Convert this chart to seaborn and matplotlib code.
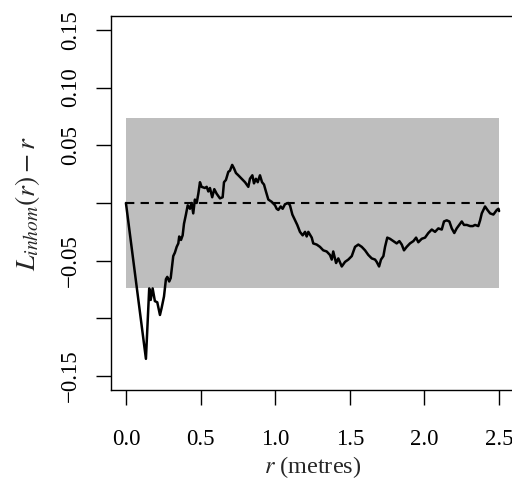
import numpy as np
import pandas as pd
import matplotlib
matplotlib.use("Agg")
import matplotlib.pyplot as plt
import seaborn as sns

# Estimated centred inhomogeneous L-function, L_inhom(r) - r
r_vals = [0.000, 0.134, 0.156, 0.166, 0.179, 0.194, 0.210, 0.228, 0.239, 0.255,
          0.268, 0.277, 0.290, 0.300, 0.317, 0.328, 0.340, 0.351, 0.357, 0.369,
          0.380, 0.389, 0.402, 0.414, 0.429, 0.440, 0.451, 0.462, 0.474, 0.485,
          0.496, 0.507, 0.529, 0.541, 0.552, 0.563, 0.578, 0.592, 0.608, 0.630,
          0.648, 0.657, 0.670, 0.686, 0.697, 0.712, 0.724, 0.737, 0.753, 0.775,
          0.798, 0.820, 0.831, 0.847, 0.858, 0.871, 0.883, 0.898, 0.912, 0.925,
          0.938, 0.954, 0.977, 0.999, 1.010, 1.021, 1.037, 1.050, 1.066, 1.088,
          1.099, 1.115, 1.133, 1.148, 1.166, 1.184, 1.200, 1.211, 1.222, 1.245,
          1.255, 1.278, 1.300, 1.322, 1.345, 1.367, 1.379, 1.389, 1.408, 1.423,
          1.446, 1.468, 1.490, 1.513, 1.535, 1.557, 1.580, 1.602, 1.624, 1.647,
          1.669, 1.680, 1.696, 1.709, 1.725, 1.736, 1.751, 1.769, 1.792, 1.814,
          1.832, 1.848, 1.863, 1.881, 1.903, 1.926, 1.944, 1.959, 1.982, 2.004,
          2.026, 2.049, 2.071, 2.093, 2.116, 2.131, 2.149, 2.167, 2.183, 2.200,
          2.216, 2.239, 2.250, 2.265, 2.284, 2.306, 2.324, 2.339, 2.361, 2.373,
          2.384, 2.406, 2.422, 2.440, 2.462, 2.485, 2.496, 2.500]
l_minus_r = [0.000, -0.135, -0.074, -0.084, -0.074, -0.085, -0.086, -0.097, -0.091, -0.081,
             -0.066, -0.064, -0.068, -0.065, -0.046, -0.043, -0.038, -0.035, -0.029, -0.032,
             -0.028, -0.018, -0.010, -0.002, -0.005, -0.000, -0.009, 0.003, 0.000, 0.008,
             0.018, 0.014, 0.013, 0.014, 0.010, 0.013, 0.005, 0.012, 0.008, 0.004,
             0.005, 0.018, 0.020, 0.027, 0.028, 0.033, 0.030, 0.026, 0.024, 0.021,
             0.018, 0.014, 0.021, 0.024, 0.017, 0.021, 0.018, 0.024, 0.018, 0.016,
             0.010, 0.003, 0.001, -0.002, -0.005, -0.006, -0.003, -0.005, -0.001, 0.000,
             -0.002, -0.010, -0.015, -0.019, -0.025, -0.028, -0.025, -0.029, -0.025, -0.030,
             -0.035, -0.036, -0.038, -0.041, -0.042, -0.045, -0.049, -0.042, -0.052, -0.048,
             -0.055, -0.051, -0.049, -0.046, -0.038, -0.036, -0.038, -0.041, -0.045, -0.048,
             -0.049, -0.051, -0.055, -0.049, -0.046, -0.038, -0.030, -0.031, -0.033, -0.035,
             -0.033, -0.036, -0.041, -0.038, -0.035, -0.033, -0.030, -0.034, -0.031, -0.030,
             -0.026, -0.023, -0.025, -0.022, -0.023, -0.016, -0.015, -0.016, -0.022, -0.026,
             -0.022, -0.018, -0.016, -0.019, -0.019, -0.020, -0.020, -0.019, -0.020, -0.015,
             -0.009, -0.003, -0.006, -0.009, -0.010, -0.006, -0.005, -0.007]

# Simulation envelope and theoretical value under CSR
band_r = [0.0, 2.5]
band_lo = [-0.0733, -0.0733]
band_hi = [0.0733, 0.0733]
theo = [0.0, 0.0]

x_ticks = [0.0, 0.5, 1.0, 1.5, 2.0, 2.5]
x_tick_labels = ["0.0", "0.5", "1.0", "1.5", "2.0", "2.5"]
y_ticks = [-0.15, -0.10, -0.05, 0.00, 0.05, 0.10, 0.15]
y_tick_labels = ["\u22120.15", "", "\u22120.05", "", "0.05", "0.10", "0.15"]

sns.set_style("ticks")
plt.rcParams["font.family"] = ["Liberation Serif", "DejaVu Serif"]
plt.rcParams["mathtext.fontset"] = "stix"

df = pd.DataFrame({"r": r_vals, "L": l_minus_r})

fig = plt.figure(figsize=(5.12, 4.8), dpi=100)
ax = fig.add_axes([111 / 512, 90 / 480, 403 / 512, 374 / 480])

ax.fill_between(band_r, band_lo, band_hi, color="#bebebe", linewidth=0, zorder=1)
sns.lineplot(x=band_r, y=theo, ax=ax, color="black", linewidth=1.5,
             linestyle=(0, (4, 3)), zorder=2)
sns.lineplot(data=df, x="r", y="L", ax=ax, color="black", linewidth=1.8,
             sort=False, estimator=None, zorder=3)

ax.set_xlim(-0.1, 2.6)
ax.set_ylim(-0.162, 0.162)

ax.set_xticks(x_ticks)
ax.set_xticklabels(x_tick_labels)
ax.set_yticks(y_ticks)
ax.set_yticklabels(y_tick_labels, rotation=90, va="center")

ax.tick_params(axis="both", direction="out", length=10.8, width=1.0,
               labelsize=16.5, colors="black")
ax.tick_params(axis="x", pad=17)
ax.tick_params(axis="y", pad=11)

for side in ["left", "bottom", "top", "right"]:
    ax.spines[side].set_visible(True)
    ax.spines[side].set_color("black")
    ax.spines[side].set_linewidth(1.0)

ax.set_xlabel("$r$ (metres)", fontsize=17.5, labelpad=3)
ax.set_ylabel("$L_{inhom}(r) - r$", fontsize=20, labelpad=13)

fig.savefig("out.png", dpi=100)
